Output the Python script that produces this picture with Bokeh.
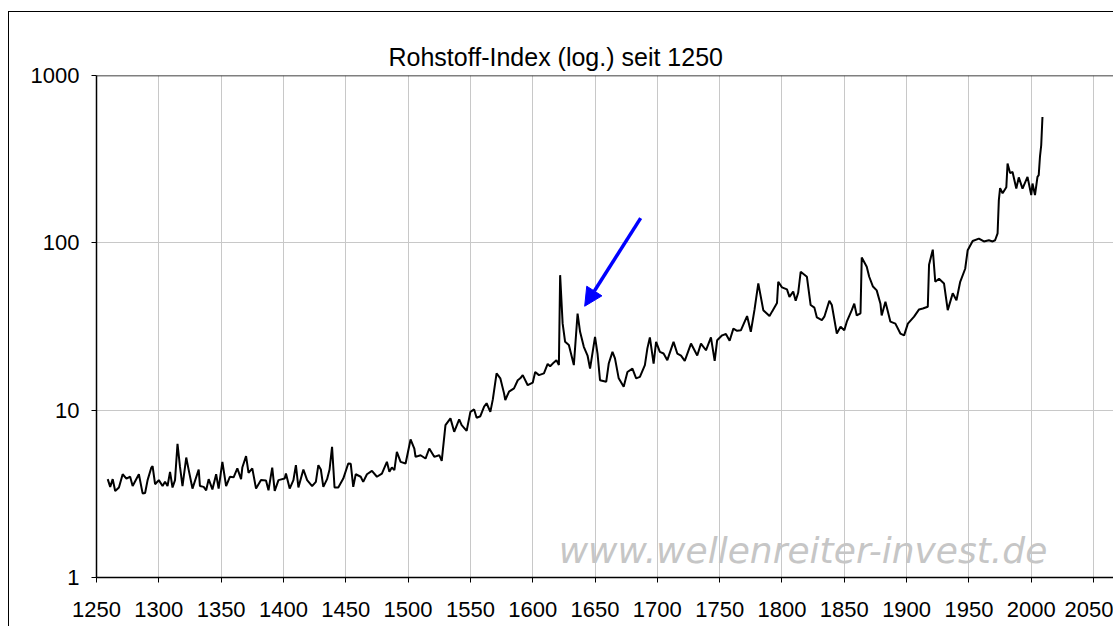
from bokeh.plotting import figure
from bokeh.models import (Range1d, FixedTicker, NumeralTickFormatter, Span, Label,
                          Arrow, NormalHead, Title)
from bokeh.embed import file_html
from bokeh.resources import INLINE

title_text = "Rohstoff-Index (log.) seit 1250"
watermark_text = "www.wellenreiter-invest.de"

x_ticks = [1250, 1300, 1350, 1400, 1450, 1500, 1550, 1600, 1650, 1700,
           1750, 1800, 1850, 1900, 1950, 2000, 2050]
y_ticks = [1, 10, 100, 1000]

years = [1259, 1261, 1263, 1265, 1268, 1271, 1274, 1277, 1279, 1284, 1287, 1289,
         1291, 1294, 1295, 1297, 1300, 1303, 1305, 1307, 1309, 1311, 1313, 1315,
         1317, 1319, 1322, 1324, 1327, 1332, 1333, 1336, 1338, 1340, 1343, 1346,
         1348, 1351, 1354, 1357, 1360, 1363, 1366, 1367, 1370, 1372, 1375, 1378,
         1382, 1386, 1388, 1391, 1393, 1396, 1401, 1402, 1405, 1408, 1410, 1412,
         1416, 1419, 1423, 1426, 1428, 1430, 1432, 1435, 1437, 1439, 1441, 1444,
         1448, 1452, 1454, 1456, 1458, 1462, 1464, 1467, 1471, 1475, 1479, 1483,
         1485, 1487, 1489, 1491, 1494, 1498, 1502, 1505, 1506, 1510, 1514, 1517,
         1521, 1525, 1527, 1530, 1534, 1537, 1541, 1543, 1547, 1550, 1553, 1555,
         1558, 1561, 1563, 1566, 1568, 1571, 1574, 1577, 1578, 1581, 1585, 1588,
         1590, 1592, 1596, 1600, 1602, 1605, 1609, 1612, 1614, 1617, 1619, 1621,
         1622, 1624, 1626, 1629, 1633, 1636, 1638, 1641, 1644, 1646, 1650, 1652,
         1654, 1659, 1661, 1664, 1666, 1669, 1673, 1676, 1680, 1683, 1686, 1690,
         1692, 1694, 1697, 1699, 1702, 1705, 1708, 1713, 1716, 1719, 1722, 1727,
         1732, 1735, 1739, 1743, 1746, 1748, 1752, 1755, 1758, 1761, 1764, 1767,
         1772, 1775, 1778, 1781, 1785, 1790, 1792, 1796, 1797, 1800, 1804, 1806,
         1809, 1811, 1813, 1815, 1820, 1823, 1826, 1828, 1832, 1834, 1838, 1840,
         1844, 1847, 1850, 1852, 1856, 1858, 1860, 1863, 1864, 1868, 1870, 1873,
         1876, 1879, 1880, 1883, 1887, 1891, 1895, 1898, 1901, 1906, 1910, 1913,
         1917, 1918, 1921, 1923, 1926, 1930, 1933, 1937, 1940, 1943, 1947, 1949,
         1953, 1958, 1962, 1966, 1969, 1971, 1973, 1974, 1975, 1977, 1980, 1981,
         1983, 1985, 1988, 1990, 1993, 1997, 2000, 2001, 2003, 2005, 2006, 2007,
         2008, 2009]

index_values = [3.87, 3.48, 3.87, 3.29, 3.45, 4.14, 3.9, 4.0, 3.52, 4.14, 3.18, 3.2,
                3.82, 4.54, 4.63, 3.61, 3.82, 3.52, 3.73, 3.52, 4.28, 3.45, 3.82, 6.3,
                4.58, 3.52, 5.21, 4.38, 3.40, 4.42, 3.52, 3.48, 3.32, 3.87, 3.36, 4.14,
                3.40, 4.91, 3.52, 4.0, 3.97, 4.49, 3.87, 4.54, 5.31, 4.22, 4.49, 3.40,
                3.82, 3.8, 3.32, 4.54, 3.29, 3.82, 3.9, 4.18, 3.40, 3.82, 4.69, 3.45,
                4.42, 3.82, 3.52, 3.73, 4.69, 4.42, 3.48, 3.87, 4.42, 6.04, 3.45, 3.45,
                3.9, 4.8, 4.78, 3.48, 4.14, 4.0, 3.73, 4.14, 4.34, 4.0, 4.18, 4.91,
                4.28, 4.54, 4.38, 5.63, 4.91, 4.8, 6.68, 5.9, 5.26, 5.38, 5.14, 5.9,
                5.26, 5.38, 4.98, 8.13, 8.93, 7.43, 8.8, 8.13, 7.52, 9.77, 10.1, 9.0,
                9.2, 10.5, 11.0, 9.77, 11.6, 16.6, 15.5, 12.6, 11.5, 12.9, 13.5, 15.1,
                15.5, 16.2, 14.1, 14.6, 16.9, 16.2, 16.6, 18.9, 18.3, 19.3, 19.9, 18.6,
                64.1, 33.0, 25.6, 24.5, 18.6, 37.8, 29.4, 23.9, 21.2, 17.7, 27.4, 21.8,
                15.1, 14.8, 19.0, 22.3, 20.4, 15.5, 13.8, 16.9, 17.7, 15.5, 15.8, 18.6,
                23.4, 27.2, 19.0, 25.6, 22.3, 21.8, 19.9, 25.6, 21.8, 21.2, 19.7, 25.0,
                21.2, 25.0, 22.8, 27.2, 19.7, 26.2, 28.0, 28.5, 26.0, 30.7, 29.8, 30.0,
                36.5, 29.4, 40.0, 57.2, 39.6, 36.5, 38.8, 43.7, 58.5, 54.2, 52.7, 47.5,
                51.1, 45.1, 50.3, 67.1, 62.7, 42.5, 41.0, 35.8, 34.5, 36.2, 45.1, 42.5,
                28.7, 31.5, 30.0, 33.8, 39.6, 43.3, 36.8, 37.9, 81.8, 72.0, 62.7, 54.8,
                52.0, 43.3, 36.8, 44.5, 33.8, 32.9, 28.7, 28.0, 32.9, 36.2, 40.0, 40.5,
                41.5, 74.0, 91.0, 58.5, 61.0, 57.2, 39.6, 49.9, 45.4, 58.5, 70.0, 90.4,
                102.6, 106.0, 101.9, 103.6, 101.9, 103.6, 114.0, 180.0, 212.0, 198.0, 215.0, 298.0,
                261.0, 265.0, 211.0, 246.0, 211.0, 248.0, 193.0, 226.0, 193.0, 248.0, 254.0, 327.0,
                383.0, 565.0]

FONT = "Liberation Sans"

border_css = {
    "background-image": "linear-gradient(#000000, #000000), linear-gradient(#000000, #000000)",
    "background-size": "1px 100%, 100% 1px",
    "background-position": "8px 11px, 8px 11px",
    "background-repeat": "no-repeat",
}

p = figure(width=1113, height=626, x_range=Range1d(1250, 2066), y_range=Range1d(1, 1000),
           y_axis_type="log", output_backend="svg", toolbar_location=None,
           min_border_left=96, min_border_right=0, min_border_top=75, min_border_bottom=49,
           title=title_text, styles=border_css)

p.border_fill_color = None
p.background_fill_color = "white"
p.outline_line_color = None

p.title.text_font = FONT
p.title.text_font_size = "25px"
p.title.text_font_style = "normal"
p.title.text_color = "black"
p.title.align = "left"
p.title.offset = 292
p.title.vertical_align = "bottom"
p.title.standoff = 10

# invisible spacer panel between the title and the plot area
p.add_layout(Title(text=".", text_font=FONT, text_font_size="10px", text_alpha=0,
                   standoff=10), "above")

# grids
p.xgrid.ticker = FixedTicker(ticks=x_ticks)
p.ygrid.ticker = FixedTicker(ticks=y_ticks)
p.xgrid.grid_line_color = "#c8c8c8"
p.ygrid.grid_line_color = "#c8c8c8"
p.xgrid.grid_line_width = 1
p.ygrid.grid_line_width = 1

# axes
for ax in (p.xaxis[0], p.yaxis[0]):
    ax.axis_line_color = "black"
    ax.axis_line_width = 1.5
    ax.major_tick_line_color = "black"
    ax.major_tick_line_width = 1
    ax.major_tick_in = 0
    ax.major_tick_out = 5
    ax.minor_tick_line_color = None
    ax.major_label_text_font = FONT
    ax.major_label_text_font_size = "22px"
    ax.major_label_text_color = "black"

p.xaxis[0].ticker = FixedTicker(ticks=x_ticks)
p.xaxis[0].major_label_standoff = 19
p.yaxis[0].ticker = FixedTicker(ticks=y_ticks)
p.yaxis[0].formatter = NumeralTickFormatter(format="0")
p.yaxis[0].major_label_standoff = 12

# top line at 1000
p.add_layout(Span(location=1000, dimension="width", line_color="black", line_width=1.5))

# watermark
p.add_layout(Label(x=1620.8, y=1.456, text=watermark_text, text_font="DejaVu Sans",
                   text_font_size="36px", text_font_style="italic", text_color="#c6c6c6",
                   text_align="left", text_baseline="alphabetic"))

# data line
p.line(years, index_values, line_color="black", line_width=2)

# arrow
p.add_layout(Arrow(end=NormalHead(size=18, fill_color="#0000ff", line_color="#0000ff"),
                   x_start=1686.6, y_start=140.5, x_end=1641.7, y_end=41.8,
                   line_color="#0000ff", line_width=3.5))

open("out.html", "w").write(file_html(p, INLINE))
